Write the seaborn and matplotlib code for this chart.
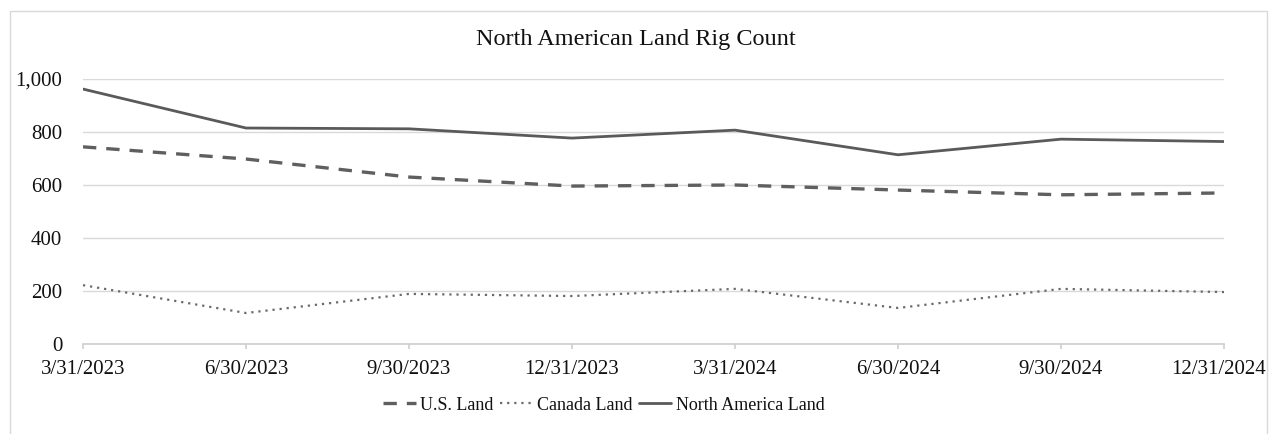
import matplotlib
matplotlib.use('Agg')
import matplotlib.pyplot as plt
import matplotlib.transforms as mtransforms
import pandas as pd
import seaborn as sns
from matplotlib.patches import Rectangle

quarters = ["3/31/2023", "6/30/2023", "9/30/2023", "12/31/2023",
            "3/31/2024", "6/30/2024", "9/30/2024", "12/31/2024"]
us_land = [744, 698, 630, 596, 600, 581, 563, 570]
canada_land = [222, 117, 189, 181, 208, 136, 208, 196]
na_land = [962, 815, 812, 777, 807, 714, 773, 764]

series = ["U.S. Land", "Canada Land", "North America Land"]
df = pd.DataFrame({
    "Quarter": quarters * 3,
    "Rigs": us_land + canada_land + na_land,
    "Series": [s for s in series for _ in quarters],
})

sns.set_theme(style="white")
plt.rcParams['font.family'] = ['Liberation Serif', 'DejaVu Serif']

fig = plt.figure(figsize=(12.71, 4.34), dpi=100)
ax = fig.add_axes([83 / 1271, 1 - 344 / 434, (1224 - 83) / 1271, (344 - 79) / 434])

sns.lineplot(data=df, x="Quarter", y="Rigs", hue="Series", style="Series",
             hue_order=series, style_order=series,
             palette=["#5f5f5f", "#6a6a6a", "#5a5a5a"],
             dashes={"U.S. Land": (4, 3), "Canada Land": (1, 2.2), "North America Land": ""},
             size="Series", sizes={"U.S. Land": 2.4, "Canada Land": 1.6, "North America Land": 2.0},
             sort=False, ax=ax)

ax.set_xlim(0, len(quarters) - 1)
ax.set_ylim(0, 1000)
ax.set_yticks(range(0, 1001, 200))
ax.set_yticklabels([f"{v:,}" for v in range(0, 1001, 200)])
ax.yaxis.grid(True, color="#d9d9d9", linewidth=1)
ax.set_xlabel("")
ax.set_ylabel("")
for side in ["top", "right", "left"]:
    ax.spines[side].set_visible(False)
ax.spines["bottom"].set_color("#d0d0d0")
ax.tick_params(axis="x", bottom=True, length=3.5, color="#d0d0d0", labelsize=15, pad=8, labelcolor="#111111")
ax.tick_params(axis="y", left=False, length=0, labelsize=15, pad=15, labelcolor="#111111")

# last date label sits slightly left so it stays inside the frame
last = ax.get_xticklabels()[-1]
last.set_transform(last.get_transform() + mtransforms.ScaledTranslation(-0.05, 0, fig.dpi_scale_trans))

fig.text(0.5, 1 - 39 / 434, "North American Land Rig Count", ha="center", va="center",
         fontsize=17.5, color="#111111")

handles, labels = ax.get_legend_handles_labels()
ax.legend(handles, labels, loc="center", ncol=3, frameon=False, fontsize=13,
          handlelength=1.8, handletextpad=0.25, columnspacing=0.35, labelcolor="#111111")
leg = ax.get_legend()
leg.set_bbox_to_anchor((604 / 1271, 1 - 405 / 434), transform=fig.transFigure)

fig.patches.append(Rectangle((10 / 1271, -0.05), (1267 - 10) / 1271, 1.05 - 11 / 434,
                             transform=fig.transFigure, fill=False,
                             edgecolor="#d9d9d9", linewidth=1))

fig.savefig("out.png", dpi=100)
